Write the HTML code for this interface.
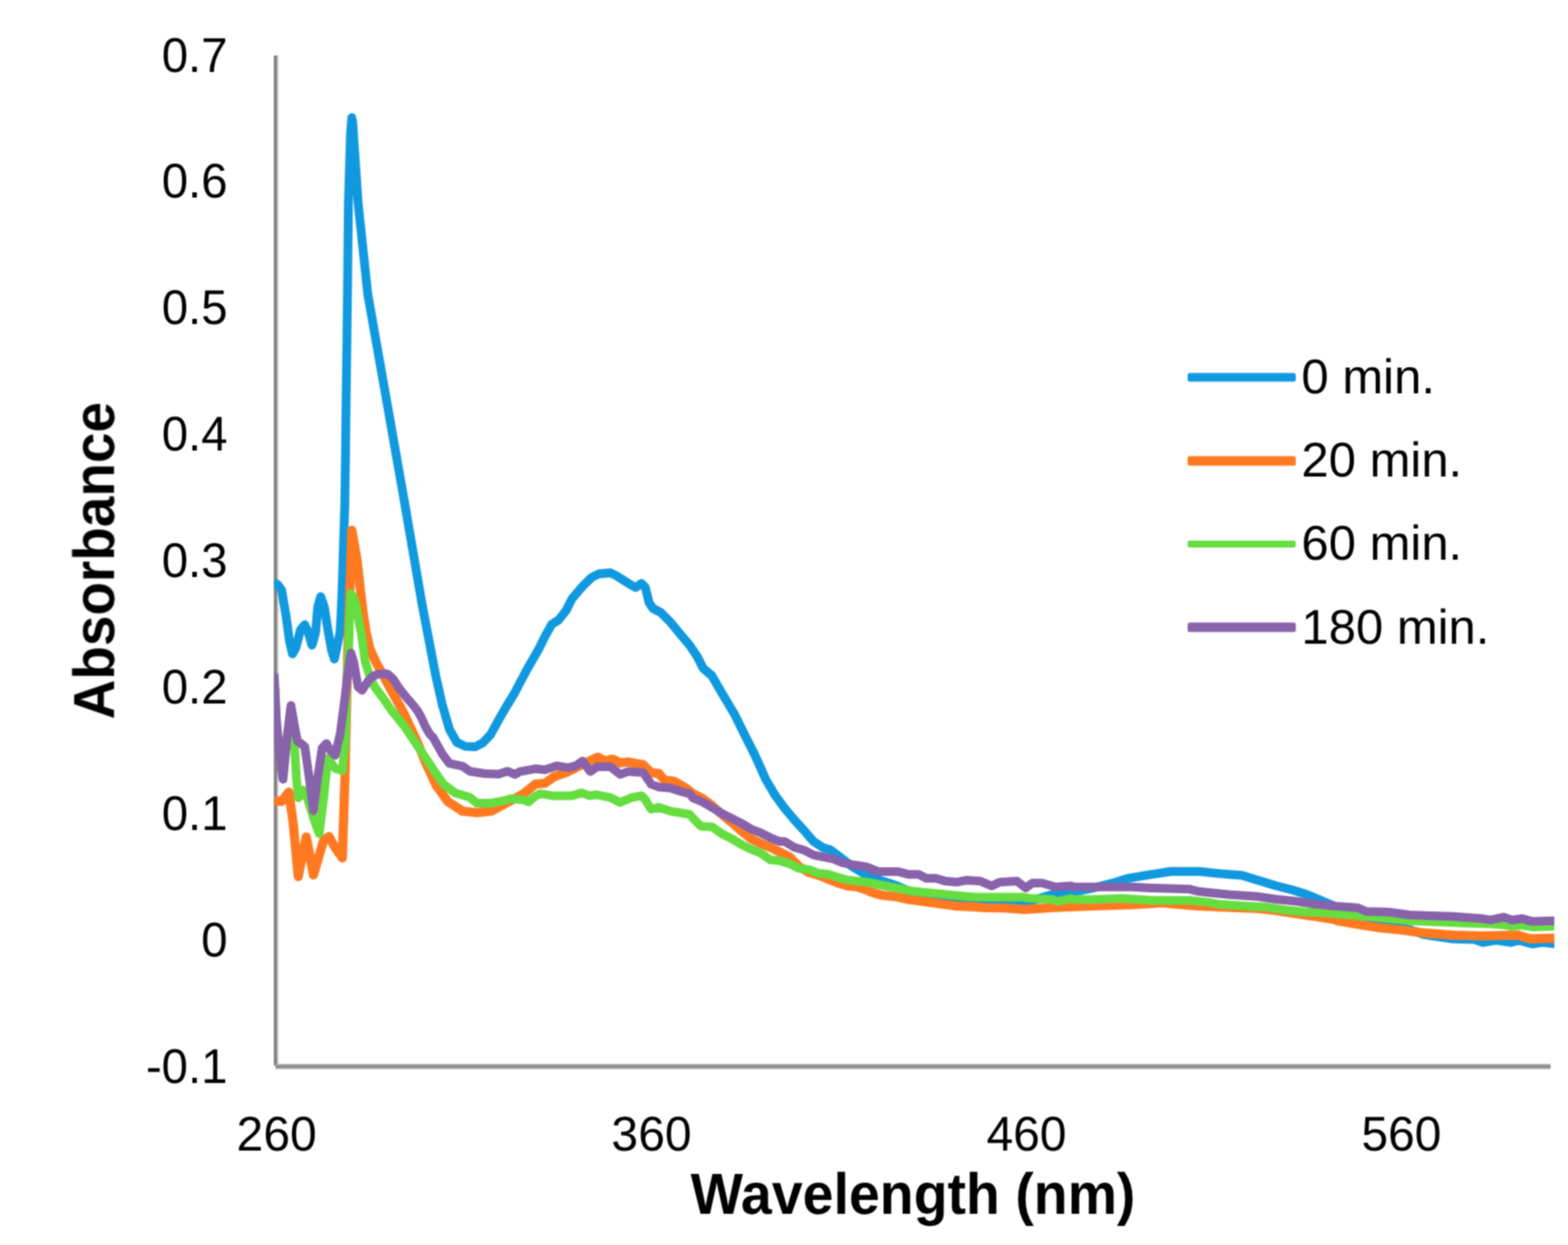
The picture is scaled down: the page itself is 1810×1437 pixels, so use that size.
<!DOCTYPE html>
<html lang="en">
<head>
<meta charset="utf-8">
<title>Absorbance vs Wavelength</title>
<style>
html,body{margin:0;padding:0;background:#fff;}
body{width:1810px;height:1437px;overflow:hidden;}
svg{display:block;}
text{font-family:"Liberation Sans",sans-serif;fill:#000;text-rendering:geometricPrecision;}
.c{fill:none;stroke-linejoin:round;stroke-linecap:butt;}
</style>
</head>
<body>
<svg width="1810" height="1437" viewBox="0 0 1810 1437">
<rect width="1810" height="1437" fill="#fff"/>
<defs><filter id="soft" x="-2%" y="-2%" width="104%" height="104%" color-interpolation-filters="sRGB"><feConvolveMatrix order="3" kernelMatrix="1 2 1 2 4 2 1 2 1" divisor="16" edgeMode="duplicate" preserveAlpha="false"/></filter><clipPath id="plot"><rect x="316.2" y="0" width="1478.0" height="1437"/></clipPath></defs>
<g filter="url(#soft)">
<rect x="316" y="64" width="4" height="1166" fill="#868686"/>
<rect x="320" y="64" width="2" height="1164" fill="#dedede"/>
<rect x="318" y="1228" width="1471.9" height="6" fill="#a8a8a8"/>
<rect x="318" y="1230" width="1471.9" height="2" fill="#858585"/>
<g clip-path="url(#plot)">
<path class="c" stroke="#1199df" stroke-width="10.2" d="M315.9,672.2 L320.9,675.2 L325.1,681.1 L330.1,710.3 L334.2,740.4 L337.6,754.7 L341.8,747.0 L346.8,727.0 L351.8,721.1 L356.0,730.3 L360.1,744.7 L364.3,730.3 L366.8,700.3 L370.2,688.6 L374.3,700.3 L378.5,727.0 L382.7,750.4 L386.0,760.6 L388.9,747.0 L392.4,730.3 L393.5,713.6 L395.2,673.5 L396.5,630.1 L398.1,580.0 L401.1,340.0 L402.2,233.6 L404.6,155.1 L406.1,135.9 L407.2,141.8 L413.3,233.6 L424.6,340.0 L445.3,456.9 L467.0,580.0 L487.1,696.9 L503.0,780.0 L510.5,813.4 L518.8,841.8 L527.2,856.8 L537.2,861.5 L548.9,861.8 L557.2,857.5 L566.3,847.9 L577.4,827.8 L586.0,813.0 L594.0,800.0 L601.0,786.5 L607.9,773.6 L614.5,762.0 L620.7,751.4 L629.0,734.7 L637.0,720.5 L644.6,715.8 L653.5,704.6 L660.2,691.3 L671.4,677.9 L682.5,666.8 L691.4,662.3 L704.8,661.2 L711.4,664.5 L720.4,670.1 L729.3,675.7 L733.7,677.9 L740.4,673.5 L744.9,677.9 L749.3,695.7 L753.8,702.4 L762.7,706.9 L773.8,718.0 L784.9,731.4 L796.1,744.7 L805.0,758.1 L811.7,771.4 L821.8,780.0 L834.5,802.0 L847.9,824.5 L859.0,847.0 L870.2,869.1 L877.5,885.0 L884.1,900.0 L894.7,917.8 L905.8,932.9 L916.9,946.2 L928.1,958.5 L939.2,971.3 L950.3,978.5 L958.1,980.7 L964.8,985.7 L973.7,992.4 L983.7,1000.2 L994.9,1006.9 L1004.7,1012.6 L1022.5,1018.2 L1035.9,1022.6 L1053.7,1030.4 L1080.4,1036.0 L1102.7,1038.2 L1125.0,1039.3 L1147.3,1040.4 L1169.5,1041.6 L1191.8,1039.3 L1202.9,1036.0 L1218.5,1031.5 L1236.3,1029.3 L1240.0,1029.3 L1262.3,1024.9 L1284.5,1019.3 L1302.4,1013.7 L1329.1,1009.3 L1351.4,1005.9 L1384.8,1005.9 L1407.0,1008.2 L1433.8,1010.4 L1451.6,1015.9 L1473.9,1022.6 L1491.7,1027.1 L1507.0,1031.9 L1520.0,1037.3 L1538.9,1045.1 L1560.0,1052.5 L1593.5,1063.5 L1626.9,1072.8 L1643.6,1078.6 L1677.0,1083.6 L1702.1,1084.4 L1712.1,1087.8 L1727.1,1085.3 L1743.9,1087.8 L1753.9,1085.3 L1768.9,1089.5 L1780.6,1087.8 L1797.3,1089.5"/>
<path class="c" stroke="#ff7920" stroke-width="10.6" d="M316.7,924.2 L325.1,925.1 L333.4,914.2 L338.4,950.1 L344.3,1011.6 L349.3,986.9 L353.5,966.0 L357.6,986.9 L361.8,1009.9 L368.5,986.9 L373.5,970.2 L379.8,965.5 L386.9,978.5 L395.2,990.2 L398.2,897.0 L401.6,747.0 L404.0,680.0 L406.1,612.0 L409.4,630.1 L412.2,646.8 L416.9,688.6 L419.6,710.3 L422.8,730.3 L426.9,748.7 L433.6,763.7 L442.0,778.8 L453.7,800.5 L464.5,820.0 L467.0,825.1 L481.2,855.2 L491.3,880.2 L503.8,906.9 L517.1,925.3 L533.9,936.2 L550.6,937.9 L567.3,936.2 L584.0,927.0 L604.5,916.2 L617.9,905.1 L629.0,904.0 L640.2,896.2 L653.5,891.7 L666.9,885.0 L680.3,878.4 L690.3,873.9 L698.1,878.4 L707.0,876.1 L715.9,880.6 L724.8,879.5 L742.6,882.8 L751.5,891.7 L760.4,892.8 L767.1,900.6 L778.3,901.7 L791.6,909.5 L800.0,916.1 L811.1,921.7 L822.3,930.1 L833.4,940.1 L844.5,949.0 L855.7,959.0 L866.8,967.9 L878.0,973.5 L889.1,978.0 L900.2,983.5 L911.4,989.1 L922.5,1000.2 L933.6,1006.9 L944.8,1010.2 L955.9,1014.7 L967.0,1019.2 L978.2,1022.5 L989.3,1023.6 L1000.0,1027.0 L1004.7,1029.3 L1018.1,1033.3 L1035.9,1035.3 L1049.3,1038.2 L1080.4,1042.4 L1102.7,1045.6 L1125.0,1046.7 L1138.4,1047.8 L1160.0,1048.0 L1182.3,1049.7 L1205.0,1048.3 L1226.8,1046.9 L1260.2,1045.8 L1304.8,1044.1 L1327.0,1043.0 L1340.0,1042.0 L1362.3,1043.9 L1384.5,1045.6 L1429.1,1047.8 L1451.4,1048.4 L1473.6,1051.1 L1495.9,1054.5 L1518.2,1057.8 L1540.0,1061.2 L1543.4,1062.7 L1568.5,1066.9 L1593.5,1071.1 L1618.6,1073.6 L1643.6,1076.9 L1677.0,1079.4 L1710.4,1080.3 L1752.2,1079.4 L1765.6,1083.6 L1797.3,1082.8"/>
<path class="c" stroke="#66dd40" stroke-width="10.0" d="M316.2,778.3 L317.5,796.7 L319.0,830.1 L322.6,871.9 L326.7,896.9 L330.9,855.2 L335.6,817.6 L338.1,846.8 L340.4,866.9 L342.1,896.9 L344.3,921.0 L350.1,912.0 L355.1,922.0 L361.8,943.7 L368.5,962.2 L373.5,922.0 L378.5,875.2 L386.9,886.9 L395.2,889.6 L398.6,855.2 L399.7,796.7 L402.6,747.0 L403.4,716.0 L405.0,685.2 L408.4,690.0 L411.2,700.1 L413.4,711.2 L415.1,722.4 L417.0,730.0 L421.5,763.4 L426.0,778.0 L432.0,792.1 L442.0,805.5 L452.0,820.0 L467.0,838.5 L483.7,863.5 L500.4,888.6 L512.1,905.3 L525.5,915.3 L542.2,920.3 L550.6,927.0 L567.3,927.0 L584.0,923.7 L589.0,921.8 L604.5,923.3 L610.1,925.6 L617.9,918.9 L623.5,916.2 L638.0,918.4 L660.2,918.4 L671.4,915.1 L680.3,918.4 L689.2,917.3 L704.8,920.7 L715.9,926.2 L729.3,920.7 L740.4,918.4 L744.9,922.9 L751.5,934.0 L760.4,931.8 L773.8,936.3 L796.1,940.0 L800.0,944.5 L808.9,953.5 L822.3,954.6 L833.4,962.4 L844.5,967.9 L855.7,974.6 L866.8,980.2 L878.0,984.6 L889.1,992.4 L900.2,993.5 L911.4,996.9 L922.5,1002.4 L933.6,1003.6 L944.8,1008.0 L955.9,1009.1 L967.0,1012.5 L978.2,1015.8 L989.3,1016.9 L1002.3,1018.5 L1024.5,1023.0 L1052.4,1028.5 L1080.2,1031.3 L1102.5,1033.5 L1124.8,1035.5 L1180.0,1035.5 L1191.8,1037.1 L1214.1,1038.2 L1220.8,1040.4 L1236.3,1037.1 L1240.0,1038.2 L1262.3,1038.2 L1295.7,1037.1 L1329.1,1039.3 L1373.6,1039.3 L1395.9,1041.6 L1407.0,1043.8 L1440.4,1046.0 L1462.7,1047.1 L1485.0,1050.5 L1507.3,1052.7 L1510.0,1052.7 L1520.0,1052.9 L1548.0,1055.2 L1575.7,1057.4 L1603.0,1060.3 L1631.4,1063.0 L1664.8,1064.3 L1693.0,1065.5 L1720.0,1066.3 L1735.5,1067.4 L1743.9,1068.9 L1755.5,1067.9 L1768.9,1069.9 L1797.3,1068.9"/>
<path class="c" stroke="#8862aa" stroke-width="10.0" d="M316.2,777.5 L317.5,796.7 L319.0,830.1 L322.6,871.9 L326.7,899.6 L330.9,855.2 L335.9,814.2 L340.1,838.5 L343.4,855.2 L351.8,861.8 L356.8,896.9 L361.8,935.7 L366.8,896.9 L371.8,863.5 L376.8,858.2 L381.8,866.9 L386.9,871.7 L392.7,846.8 L398.2,805.1 L401.1,780.0 L405.1,753.8 L408.5,765.0 L413.4,793.0 L417.9,796.8 L425.0,786.0 L430.1,780.7 L435.7,778.3 L445.4,777.6 L448.1,778.4 L453.7,783.4 L460.6,794.2 L469.0,804.8 L476.8,813.7 L482.3,820.9 L486.5,828.5 L491.2,839.0 L495.4,846.3 L500.4,851.8 L510.5,870.2 L518.8,881.1 L533.9,884.4 L542.2,890.2 L558.9,892.8 L575.6,893.6 L585.6,890.2 L594.0,893.6 L594.5,893.9 L600.1,890.6 L617.9,887.3 L629.0,888.4 L642.4,883.9 L655.8,886.1 L664.7,883.9 L672.5,878.4 L681.4,890.6 L689.2,885.0 L704.8,885.0 L715.9,893.9 L724.8,890.6 L742.6,891.7 L751.5,905.1 L760.4,908.4 L773.8,909.5 L787.2,914.0 L796.1,916.2 L800.0,921.2 L811.1,925.6 L822.3,932.3 L833.4,939.0 L844.5,944.5 L855.7,950.1 L866.8,956.8 L878.0,961.2 L889.1,966.8 L900.2,971.3 L905.8,971.3 L916.9,978.0 L928.1,981.3 L939.2,986.9 L950.3,989.1 L961.5,991.3 L972.6,995.8 L983.7,998.0 L1000.0,1000.5 L1013.6,1005.9 L1035.9,1005.9 L1049.3,1009.3 L1060.4,1009.3 L1069.3,1013.7 L1080.4,1013.7 L1091.6,1017.1 L1104.9,1018.2 L1116.1,1015.9 L1131.7,1017.1 L1145.0,1022.6 L1153.9,1018.2 L1174.0,1017.1 L1184.0,1024.9 L1191.8,1019.3 L1202.9,1019.3 L1218.5,1023.7 L1236.3,1022.6 L1240.0,1023.7 L1284.5,1023.7 L1306.8,1023.7 L1329.1,1024.9 L1340.0,1025.2 L1373.4,1026.3 L1384.5,1029.1 L1418.0,1032.4 L1451.4,1034.7 L1473.6,1038.0 L1495.9,1040.2 L1518.2,1043.6 L1540.0,1045.8 L1566.8,1047.7 L1576.8,1051.9 L1603.5,1052.7 L1626.9,1056.0 L1652.0,1056.9 L1677.0,1057.7 L1710.4,1060.2 L1720.5,1061.9 L1735.5,1058.6 L1745.5,1061.9 L1757.2,1060.2 L1768.9,1063.6 L1797.3,1062.7"/>
</g>
<text transform="translate(262.70,82.50) scale(0.9720,1)" font-size="56.3" font-weight="400" text-anchor="end">0.7</text>
<text transform="translate(262.70,228.44) scale(0.9720,1)" font-size="56.3" font-weight="400" text-anchor="end">0.6</text>
<text transform="translate(262.70,374.38) scale(0.9720,1)" font-size="56.3" font-weight="400" text-anchor="end">0.5</text>
<text transform="translate(262.70,520.32) scale(0.9720,1)" font-size="56.3" font-weight="400" text-anchor="end">0.4</text>
<text transform="translate(262.70,666.26) scale(0.9720,1)" font-size="56.3" font-weight="400" text-anchor="end">0.3</text>
<text transform="translate(262.70,812.20) scale(0.9720,1)" font-size="56.3" font-weight="400" text-anchor="end">0.2</text>
<text transform="translate(262.70,958.14) scale(0.9720,1)" font-size="56.3" font-weight="400" text-anchor="end">0.1</text>
<text transform="translate(262.70,1104.08) scale(0.9720,1)" font-size="56.3" font-weight="400" text-anchor="end">0</text>
<text transform="translate(262.70,1250.02) scale(0.9720,1)" font-size="56.3" font-weight="400" text-anchor="end">-0.1</text>
<text transform="translate(319.30,1327.70) scale(0.9850,1)" font-size="56.3" font-weight="400" text-anchor="middle">260</text>
<text transform="translate(752.10,1327.70) scale(0.9850,1)" font-size="56.3" font-weight="400" text-anchor="middle">360</text>
<text transform="translate(1184.90,1327.70) scale(0.9850,1)" font-size="56.3" font-weight="400" text-anchor="middle">460</text>
<text transform="translate(1617.70,1327.70) scale(0.9850,1)" font-size="56.3" font-weight="400" text-anchor="middle">560</text>
<text transform="translate(797.30,1401.30) scale(0.9555,1)" font-size="67.0" font-weight="700" text-anchor="start">Wavelength (nm)</text>
<text transform="translate(131.60,830.20) rotate(-90) scale(0.9455,1)" font-size="67.0" font-weight="700" text-anchor="start">Absorbance</text>
<rect x="1370.9" y="430.60" width="124.9" height="10.0" rx="2.5" fill="#1199df"/>
<text transform="translate(1502.30,453.60) scale(1.0050,1)" font-size="56.3" font-weight="400" text-anchor="start">0 min.</text>
<rect x="1370.9" y="526.40" width="124.9" height="11.0" rx="2.5" fill="#ff7920"/>
<text transform="translate(1502.30,549.90) scale(1.0050,1)" font-size="56.3" font-weight="400" text-anchor="start">20 min.</text>
<rect x="1370.9" y="623.90" width="124.9" height="8.2" rx="2.5" fill="#66dd40"/>
<text transform="translate(1502.30,646.20) scale(1.0050,1)" font-size="56.3" font-weight="400" text-anchor="start">60 min.</text>
<rect x="1370.9" y="718.50" width="124.9" height="11.0" rx="2.5" fill="#8862aa"/>
<text transform="translate(1502.30,742.50) scale(1.0050,1)" font-size="56.3" font-weight="400" text-anchor="start">180 min.</text>
</g>
</svg>
</body>
</html>
